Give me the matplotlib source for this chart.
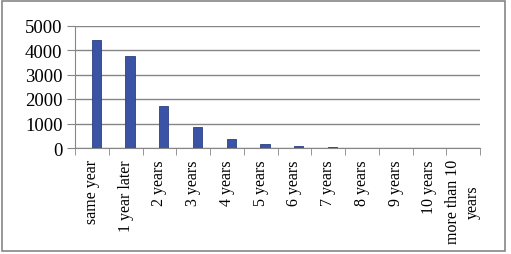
import numpy as np
import matplotlib.pyplot as plt
from matplotlib.patches import Rectangle

# data
labels = ['same year', '1 year later', '2 years', '3 years', '4 years', '5 years',
          '6 years', '7 years', '8 years', '9 years', '10 years', 'more than 10\nyears']
counts = [4400, 3750, 1700, 870, 380, 180, 100, 30, 8, 5, 3, 2]

plt.rcParams['font.family'] = ['Liberation Serif', 'DejaVu Serif']

fig = plt.figure(figsize=(5.11, 2.55), dpi=100)
ax = fig.add_axes([75 / 511, 1 - 149 / 255, 405 / 511, 122.5 / 255])

x_pos = np.arange(len(labels))
# bars sit a little right of the category centre, as in the original
ax.bar(x_pos + 0.13, counts, width=0.28, color='#3a53a4', edgecolor='#2b3f86', linewidth=0.6, zorder=3)

ax.set_xlim(-0.5, len(labels) - 0.5)
ax.set_ylim(0, 5000)
ax.set_yticks(range(0, 5001, 1000))
ax.yaxis.grid(True, color='#868686', linewidth=1.0, zorder=0)
ax.tick_params(axis='y', length=6, color='#868686', labelsize=13.5, pad=3)

# category labels in the middle, ticks on the boundaries
ax.set_xticks(x_pos)
ax.set_xticklabels(labels, rotation=90, fontsize=11.5, ha='center', va='top',
                   multialignment='center', linespacing=1.3)
ax.tick_params(axis='x', which='major', length=0, pad=8)
ax.set_xticks(np.arange(-0.5, len(labels)), minor=True)
ax.tick_params(axis='x', which='minor', length=5, color='#868686')

for side in ['top', 'right']:
    ax.spines[side].set_visible(False)
for side in ['left', 'bottom']:
    ax.spines[side].set_color('#868686')

# outer chart border
fig.patches.append(Rectangle((2 / 511, 3 / 255), 503 / 511, 250 / 255, transform=fig.transFigure,
                             fill=False, edgecolor='#868686', linewidth=1.2))

fig.savefig('out.png', dpi=100)
